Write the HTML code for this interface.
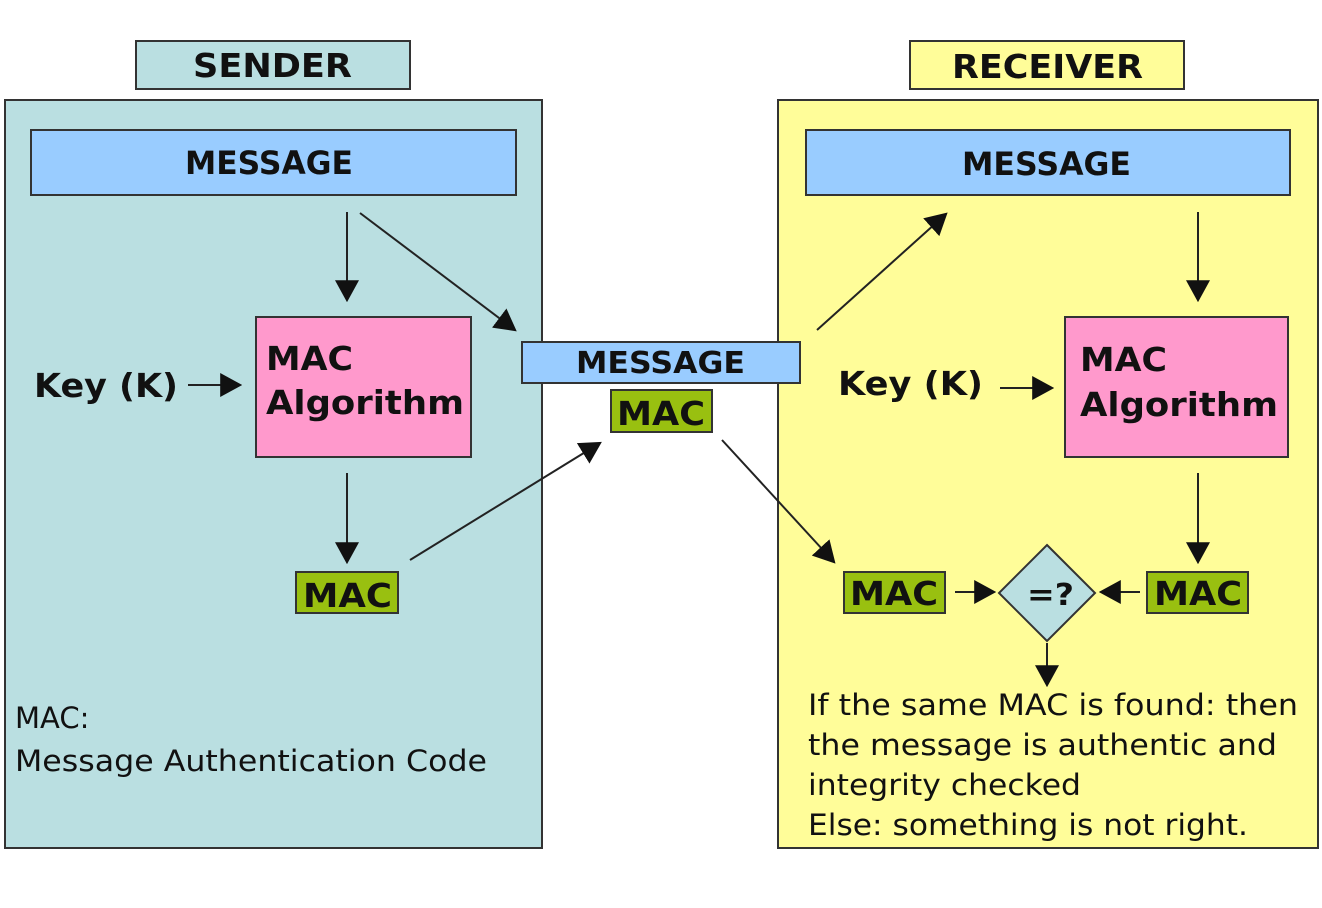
<!DOCTYPE html>
<html><head><meta charset="utf-8"><style>
html,body{margin:0;padding:0;background:#fff;}
svg{display:block;}
text{font-family:"DejaVu Sans","Liberation Sans",sans-serif;fill:#111;}
.b{font-weight:bold;}
</style></head><body>
<svg width="1322" height="908" viewBox="0 0 1322 908" xmlns="http://www.w3.org/2000/svg">
<defs>
<marker id="a" markerWidth="12" markerHeight="12" refX="11" refY="6" orient="auto" markerUnits="userSpaceOnUse" viewBox="0 0 12 12">
</marker>
<marker id="h" viewBox="0 0 10 10" refX="9" refY="5" markerWidth="22" markerHeight="24" markerUnits="userSpaceOnUse" orient="auto" preserveAspectRatio="none">
<path d="M0,0 L10,5 L0,10 z" fill="#111"/>
</marker>
</defs>
<g stroke="#333" stroke-width="2">
<rect x="136" y="41" width="274" height="48" fill="#badfe1"/>
<rect x="910" y="41" width="274" height="48" fill="#fffd99"/>
<rect x="5" y="100" width="537" height="748" fill="#badfe1"/>
<rect x="778" y="100" width="540" height="748" fill="#fffd99"/>
<rect x="31" y="130" width="485" height="65" fill="#99ccff"/>
<rect x="806" y="130" width="484" height="65" fill="#99ccff"/>
<rect x="256" y="317" width="215" height="140" fill="#ff99cc"/>
<rect x="1065" y="317" width="223" height="140" fill="#ff99cc"/>
<rect x="522" y="342" width="278" height="41" fill="#99ccff"/>
<rect x="611" y="390" width="101" height="42" fill="#99c010"/>
<rect x="296" y="572" width="102" height="41" fill="#99c010"/>
<rect x="844" y="572" width="101" height="41" fill="#99c010"/>
<rect x="1147" y="572" width="101" height="41" fill="#99c010"/>
<polygon points="1047,545 1095,593 1047,641 999,593" fill="#badfe1"/>
</g>
<g stroke="#222" stroke-width="2" marker-end="url(#h)">
<line x1="347" y1="212" x2="347" y2="300"/>
<line x1="360" y1="213" x2="515" y2="330"/>
<line x1="188" y1="385" x2="240" y2="385"/>
<line x1="347" y1="473" x2="347" y2="562"/>
<line x1="410" y1="560" x2="600" y2="443"/>
<line x1="817" y1="330" x2="946" y2="214"/>
<line x1="1198" y1="212" x2="1198" y2="300"/>
<line x1="1000" y1="388" x2="1052" y2="388"/>
<line x1="1198" y1="473" x2="1198" y2="562"/>
<line x1="722" y1="440" x2="834" y2="562"/>
<line x1="955" y1="592" x2="994" y2="592"/>
<line x1="1140" y1="592" x2="1101" y2="592"/>
<line x1="1047" y1="643" x2="1047" y2="685"/>
</g>
<g class="b">
<text class="b" x="193" y="77" font-size="33" textLength="159" lengthAdjust="spacingAndGlyphs">SENDER</text>
<text class="b" x="952" y="78" font-size="33" textLength="191" lengthAdjust="spacingAndGlyphs">RECEIVER</text>
<text class="b" x="185" y="174" font-size="32" textLength="168" lengthAdjust="spacingAndGlyphs">MESSAGE</text>
<text class="b" x="962" y="175" font-size="32" textLength="169" lengthAdjust="spacingAndGlyphs">MESSAGE</text>
<text class="b" x="34" y="397" font-size="33" textLength="144" lengthAdjust="spacingAndGlyphs">Key (K)</text>
<text class="b" x="838" y="395" font-size="33" textLength="145" lengthAdjust="spacingAndGlyphs">Key (K)</text>
<text class="b" x="266" y="370" font-size="33" textLength="87" lengthAdjust="spacingAndGlyphs">MAC</text>
<text class="b" x="266" y="414" font-size="33" textLength="198" lengthAdjust="spacingAndGlyphs">Algorithm</text>
<text class="b" x="1080" y="371" font-size="33" textLength="87" lengthAdjust="spacingAndGlyphs">MAC</text>
<text class="b" x="1080" y="416" font-size="33" textLength="198" lengthAdjust="spacingAndGlyphs">Algorithm</text>
<text class="b" x="576" y="373" font-size="30" textLength="169" lengthAdjust="spacingAndGlyphs">MESSAGE</text>
<text class="b" x="617" y="425" font-size="33" textLength="88" lengthAdjust="spacingAndGlyphs">MAC</text>
<text class="b" x="303" y="607" font-size="33" textLength="89" lengthAdjust="spacingAndGlyphs">MAC</text>
<text class="b" x="850" y="605" font-size="33" textLength="88" lengthAdjust="spacingAndGlyphs">MAC</text>
<text class="b" x="1154" y="605" font-size="33" textLength="88" lengthAdjust="spacingAndGlyphs">MAC</text>
<text class="b" x="1027" y="605" font-size="30" textLength="47" lengthAdjust="spacingAndGlyphs">=?</text>
</g>
<g font-size="29">
<text x="15" y="728" fill="#222">MAC:</text>
<text x="15" y="771" textLength="472" lengthAdjust="spacingAndGlyphs">Message Authentication Code</text>
<text x="808" y="715" textLength="490" lengthAdjust="spacingAndGlyphs">If the same MAC is found: then</text>
<text x="808" y="755" textLength="469" lengthAdjust="spacingAndGlyphs">the message is authentic and</text>
<text x="808" y="795" textLength="273" lengthAdjust="spacingAndGlyphs">integrity checked</text>
<text x="808" y="835" textLength="440" lengthAdjust="spacingAndGlyphs">Else: something is not right.</text>
</g>
</svg>
</body></html>
